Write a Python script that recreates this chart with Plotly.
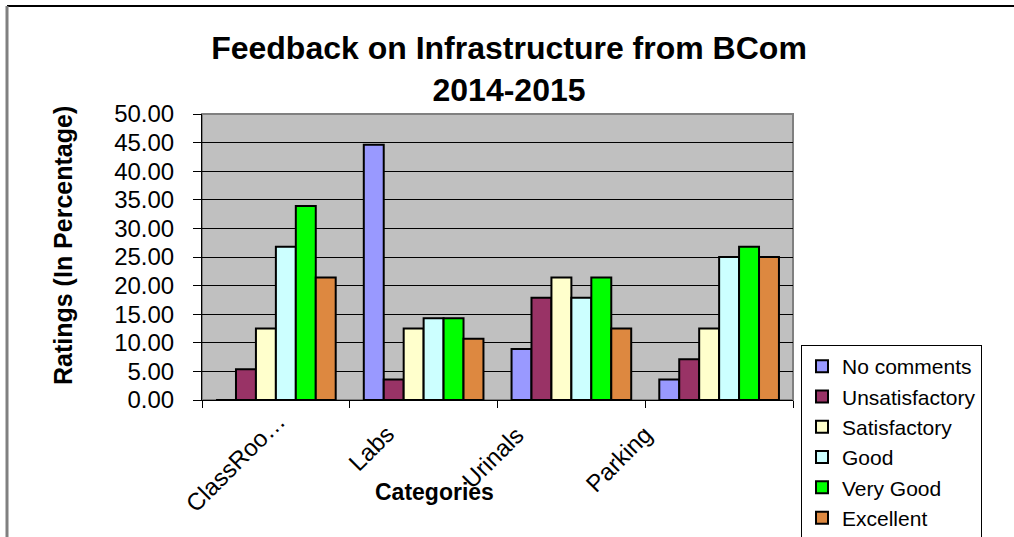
import plotly.graph_objects as go

categories = ["ClassRoo…", "Labs", "Urinals", "Parking"]
series_names = ["No comments", "Unsatisfactory", "Satisfactory", "Good", "Very Good", "Excellent"]
no_comments = [0.00, 44.64, 8.93, 3.57]
unsatisfactory = [5.36, 3.57, 17.86, 7.14]
satisfactory = [12.50, 12.50, 21.43, 12.50]
good = [26.79, 14.29, 17.86, 25.00]
very_good = [33.93, 14.29, 21.43, 26.79]
excellent = [21.43, 10.71, 12.50, 25.00]
y_ticks = [0, 5, 10, 15, 20, 25, 30, 35, 40, 45, 50]

series_values = [no_comments, unsatisfactory, satisfactory, good, very_good, excellent]
colors = ["#9999FF", "#993366", "#FFFFCC", "#CCFFFF", "#00FF00", "#DD8840"]

W, H = 1014, 537
L, R, T, B = 202, 221, 114, 137
pw, ph = W - L - R, H - T - B

def px(x):
    return (x - L) / pw

def py(y):
    return (H - B - y) / ph

FONT = "Arial, Liberation Sans, sans-serif"

fig = go.Figure()
for name, vals, col in zip(series_names, series_values, colors):
    fig.add_trace(go.Bar(
        name=name, x=categories, y=vals,
        marker=dict(color=col, line=dict(color="black", width=2)),
    ))

# x tick label placement (center offsets in px relative to category / baseline)
label_offsets = [(-41, -62), (-53, -48), (-79, -57), (-101, -59)]
annotations = []
for cat, (dx, dy) in zip(categories, label_offsets):
    annotations.append(dict(
        x=cat, xref="x", y=0, yref="paper", text=cat, showarrow=False,
        textangle=-45, xanchor="center", yanchor="middle",
        xshift=dx, yshift=dy, font=dict(family=FONT, size=24, color="black"),
    ))
annotations.append(dict(
    x=px(434), y=py(492), xref="paper", yref="paper", text="<b>Categories</b>",
    showarrow=False, xanchor="center", yanchor="middle",
    font=dict(family=FONT, size=23, color="black"),
))
annotations.append(dict(
    x=px(63), y=py(246), xref="paper", yref="paper", text="<b>Ratings (In Percentage)</b>",
    showarrow=False, xanchor="center", yanchor="middle", textangle=-90,
    font=dict(family=FONT, size=25, color="black"),
))

shapes = [
    dict(type="rect", xref="paper", yref="paper", x0=0, x1=1, y0=0, y1=1,
         line=dict(color="#808080", width=2), layer="below"),
    dict(type="line", xref="paper", yref="paper", x0=px(7), x1=px(1014), y0=py(6), y1=py(6),
         line=dict(color="black", width=2)),
    dict(type="line", xref="paper", yref="paper", x0=px(7), x1=px(7), y0=py(6), y1=py(537),
         line=dict(color="#808080", width=3)),
]

fig.update_layout(
    width=W, height=H,
    margin=dict(l=L, r=R, t=T, b=B, pad=0, autoexpand=False),
    paper_bgcolor="white", plot_bgcolor="#C0C0C0",
    barmode="group", bargap=0.19, bargroupgap=0,
    font=dict(family=FONT, color="black"),
    title=dict(
        text="<b>Feedback on Infrastructure from BCom<br>2014-2015</b>",
        x=509 / W, xanchor="center", y=1 - 59 / H, yanchor="middle",
        yref="container", font=dict(family=FONT, size=32, color="black"),
    ),
    xaxis=dict(
        range=[-0.5, len(categories) - 0.5], autorange=False,
        showticklabels=False, ticks="outside", ticklen=7, tickcolor="black",
        tickson="boundaries", showline=True, linecolor="black", linewidth=1,
        showgrid=False, zeroline=False,
    ),
    yaxis=dict(
        range=[0, 50], tickvals=y_ticks, tickformat=".2f", ticks="outside",
        ticklen=8, tickcolor="black", showline=True, linecolor="black", linewidth=1,
        gridcolor="black", gridwidth=1, zeroline=False, ticklabelstandoff=14,
        tickfont=dict(family=FONT, size=24, color="black"),
    ),
    legend=dict(
        x=px(801), y=py(345), xanchor="left", yanchor="top",
        bgcolor="white", bordercolor="black", borderwidth=1,
        font=dict(family=FONT, size=21, color="black"),
        itemwidth=30, tracegroupgap=0,
    ),
    annotations=annotations,
    shapes=shapes,
    showlegend=True,
)

fig.write_html("out.html", config={"displayModeBar": False},
               post_script="document.body.style.margin='0';")
